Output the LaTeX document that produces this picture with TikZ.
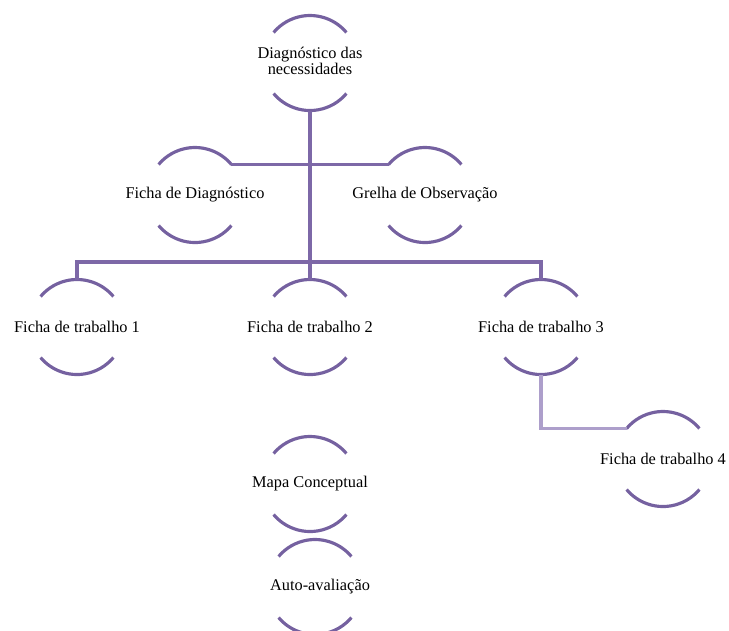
\documentclass[tikz,border=0pt]{standalone}
\usepackage{fontspec}
\setmainfont{Liberation Serif}
\usepackage{tikz}
\usetikzlibrary{positioning}
\definecolor{rimpurple}{HTML}{7561A0}
\definecolor{linkpurple}{HTML}{7D68A7}
\definecolor{lightpurple}{HTML}{AD9FCB}
\tikzstyle{circ} = [circle, minimum size=1.9cm, inner sep=0pt, outer sep=0pt]
\tikzstyle{rim} = [line width=1.8pt, draw=rimpurple]
\tikzstyle{link} = [line width=1.8pt, draw=linkpurple]
\tikzstyle{lightlink} = [line width=1.8pt, draw=lightpurple]

\begin{document}
\begin{tikzpicture}[node distance=2.64cm, font=\fontsize{9.3}{8.6}\selectfont]
\useasboundingbox (0,0) rectangle (14.58,-12.6);

\node (necess) [circ, label={center:{\begin{tabular}{@{}c@{}}Diagnóstico das\\necessidades\end{tabular}}}] at (6.2,-1.26) {};
\node (diag) [circ, below of=necess, xshift=-2.3cm, label=center:Ficha de Diagnóstico] {};
\node (grelha) [circ, below of=necess, xshift=2.3cm, label=center:Grelha de Observação] {};
\node (ficha2) [circ, below of=diag, xshift=2.3cm, label=center:Ficha de trabalho 2] {};
\node (ficha1) [circ, left of=ficha2, xshift=-2.02cm, label=center:Ficha de trabalho 1] {};
\node (ficha3) [circ, right of=ficha2, xshift=1.98cm, label=center:Ficha de trabalho 3] {};
\node (ficha4) [circ, below of=ficha3, xshift=2.44cm, label=center:Ficha de trabalho 4] {};
\node (mapa) [circ, below of=ficha2, yshift=-0.5cm, label=center:Mapa Conceptual] {};
\node (auto) [circ, below of=mapa, yshift=0.58cm, xshift=0.1cm, label={[xshift=0.1cm]center:Auto-avaliação}] {};

\foreach \n in {necess, diag, grelha, ficha1, ficha2, ficha3, ficha4, mapa, auto} {
  \draw [rim] (\n.40) arc (40:140:0.95cm);
  \draw [rim] (\n.220) arc (220:320:0.95cm);
}

\draw [link] (necess.south) -- (ficha2.north);
\draw [link] (diag.40) -- (grelha.140);
\draw [link] (ficha1.north) -- ++(0,0.35) -| (ficha3.north);
\draw [lightlink] (ficha3.south) |- (ficha4.140);

\end{tikzpicture}
\end{document}
